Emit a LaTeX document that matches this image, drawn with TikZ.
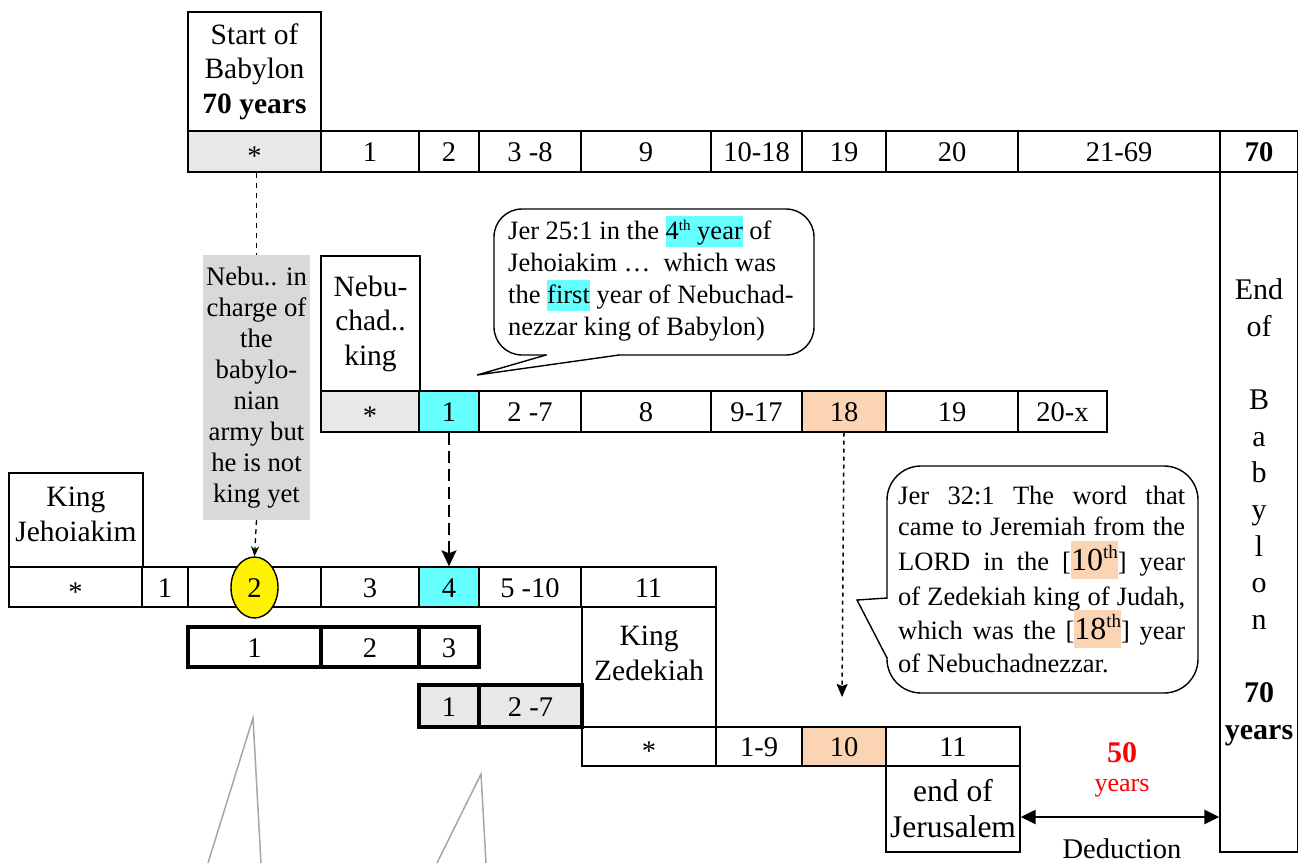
\documentclass[tikz,border=0pt]{standalone}
\usepackage{fontspec}
\setmainfont{Liberation Serif}
\usetikzlibrary{arrows.meta,shapes.geometric}
\definecolor{cellgray}{HTML}{E8E8E8}
\definecolor{boxgray}{HTML}{D9D9D9}
\definecolor{hlcyan}{HTML}{66FFFF}
\definecolor{hlpeach}{HTML}{FBD4B4}
\definecolor{linegray}{HTML}{A6A6A6}
\definecolor{redtxt}{HTML}{FF0000}
\newcommand\rkrow{\fontsize{28.5}{32}\selectfont}
\newcommand\rklabel{\fontsize{29.5}{34.5}\selectfont}
\newcommand\rkgray{\fontsize{26.7}{31}\selectfont}
\newcommand\rkcall{\fontsize{26.5}{32}\selectfont}
\newcommand\rkcol{\fontsize{30}{36.67}\selectfont}
\newcommand\rkstar{\raisebox{-4pt}{*}}
\newcommand\rksup[1]{\raisebox{9pt}{\fontsize{15}{16}\selectfont #1}}
\newcommand\rksupb[1]{\raisebox{12pt}{\fontsize{19}{20}\selectfont #1}}
\newcommand\rkhlc[1]{{\setlength{\fboxsep}{0pt}\colorbox{hlcyan}{\rule[-8pt]{0pt}{31pt}#1}}}
\newcommand\rkhlp[1]{{\setlength{\fboxsep}{0pt}\colorbox{hlpeach}{\rule[-8pt]{0pt}{38pt}\fontsize{32}{36}\selectfont #1}}}
\newcommand{\rkcell}[7]{%
 \pgfmathsetmacro\rkX{(#3+#5)/2}%
 \pgfmathsetmacro\rkY{(#4+#6)/2}%
 \pgfmathsetmacro\rkW{#5-#3}%
 \pgfmathsetmacro\rkH{#6-#4}%
 \node[#1,minimum width=\rkW pt,minimum height=\rkH pt] (#2) at (\rkX,\rkY) {#7};}
\tikzset{
 rowcell/.style={draw, line width=1.4pt, inner sep=0pt, align=center, font=\rkrow, text height=20pt, text depth=0pt},
 graycell/.style={rowcell, fill=cellgray},
 cyancell/.style={rowcell, fill=hlcyan},
 peachcell/.style={rowcell, fill=hlpeach},
 thickcell/.style={rowcell, line width=4pt},
 thickgray/.style={thickcell, fill=cellgray},
 labelbox/.style={draw, line width=1.4pt, inner sep=0pt, align=center, font=\rklabel},
 labeltext/.style={inner sep=0pt, align=center, font=\rklabel},
 calltext/.style={inner sep=0pt, anchor=base west, font=\rkcall},
 callline/.style={draw, line width=1.4pt},
 dashtop/.style={line width=1.3pt, dash pattern=on 5pt off 5pt},
 dashsmall/.style={line width=1.3pt, dash pattern=on 5pt off 4pt, -{Stealth[length=10pt,width=8pt]}},
 dashlong/.style={line width=1.5pt, dash pattern=on 12pt off 6pt, -{Stealth[length=16pt,width=15pt,inset=3pt]}},
 dashshort/.style={line width=1.5pt, dash pattern=on 4pt off 4pt, -{Stealth[length=13pt,width=11pt,inset=2pt]}},
 dblarrow/.style={line width=2.5pt, {Triangle[length=15pt,width=14pt]}-{Triangle[length=15pt,width=14pt]}},
 grayline/.style={draw=linegray, line width=1.5pt},
}
\begin{document}
\begin{tikzpicture}[x=1pt,y=-1pt]
\useasboundingbox (0,0) rectangle (1298,863);
% ---------- top row: Babylon ----------
\rkcell{labelbox}{startbox}{188}{12}{321}{131}{Start of\\Babylon\\\textbf{70 years}}
\rkcell{graycell}{t0}{188}{131}{321}{172}{\rkstar}
\rkcell{rowcell}{t1}{321}{131}{419}{172}{1}
\rkcell{rowcell}{t2}{419}{131}{479}{172}{2}
\rkcell{rowcell}{t3}{479}{131}{581}{172}{3 -8}
\rkcell{rowcell}{t4}{581}{131}{711}{172}{9}
\rkcell{rowcell}{t5}{711}{131}{802}{172}{10-18}
\rkcell{rowcell}{t6}{802}{131}{886}{172}{19}
\rkcell{rowcell}{t7}{886}{131}{1018}{172}{20}
\rkcell{rowcell}{t8}{1018}{131}{1220}{172}{21-69}
\rkcell{rowcell}{t9}{1220}{131}{1298}{172}{\textbf{70}}
\rkcell{labelbox}{endcol}{1220}{172}{1298}{852}{}
\node[inner sep=0pt, align=center, font=\rkcol, anchor=north] (coltext) at (1259,278.5)
 {End\\of\\\mbox{}\\B\\a\\b\\y\\l\\o\\n\\\mbox{}\\\textbf{70}\\\textbf{years}};
% ---------- gray note ----------
\node[fill=boxgray, inner sep=0pt, minimum width=107pt, minimum height=265pt, align=center, font=\rkgray]
 (graybox) at (256.5,387.5) {Nebu.. in\\charge of\\the\\babylo-\\nian\\army but\\he is not\\king yet};
% ---------- Nebuchadnezzar row ----------
\rkcell{labelbox}{nebbox}{321}{256}{420}{391}{Nebu-\\chad..\\king}
\rkcell{graycell}{n0}{321}{391}{419}{432}{\rkstar}
\rkcell{cyancell}{n1}{419}{391}{479}{432}{1}
\rkcell{rowcell}{n2}{479}{391}{581}{432}{2 -7}
\rkcell{rowcell}{n3}{581}{391}{711}{432}{8}
\rkcell{rowcell}{n4}{711}{391}{802}{432}{9-17}
\rkcell{peachcell}{n5}{802}{391}{886}{432}{18}
\rkcell{rowcell}{n6}{886}{391}{1018}{432}{19}
\rkcell{rowcell}{n7}{1018}{391}{1107}{432}{20-x}
% ---------- Jehoiakim row ----------
\rkcell{labelbox}{jehbox}{9}{473}{143}{567}{}
\node[labeltext] (jehtext) at (76,514.5) {King\\Jehoiakim};
\rkcell{rowcell}{j0}{9}{567}{142}{607}{\rkstar}
\rkcell{rowcell}{j1}{142}{567}{188}{607}{1}
\rkcell{rowcell}{j2}{188}{567}{321}{607}{}
\rkcell{rowcell}{j3}{321}{567}{419}{607}{3}
\rkcell{cyancell}{j4}{419}{567}{479}{607}{4}
\rkcell{rowcell}{j5}{479}{567}{581}{607}{5 -10}
\rkcell{rowcell}{j6}{581}{567}{716}{607}{11}
\node[ellipse, draw, line width=1.4pt, fill=yellow, inner sep=0pt, minimum width=47pt, minimum height=61pt,
 font=\rkrow, text height=20pt, text depth=0pt] (ell) at (254.5,587.5) {2};
% ---------- thick rows ----------
\rkcell{thickcell}{k1}{188}{627}{321}{667}{1}
\rkcell{thickcell}{k2}{321}{627}{419}{667}{2}
\rkcell{thickcell}{k3}{419}{627}{479}{667}{3}
\rkcell{thickgray}{m1}{419}{685}{479}{727}{1}
\rkcell{thickgray}{m2}{479}{685}{582}{727}{2 -7}
% ---------- Zedekiah ----------
\rkcell{labelbox}{zedbox}{582}{607}{716}{727}{}
\node[labeltext] (zedtext) at (649,653.5) {King\\Zedekiah};
\rkcell{rowcell}{z0}{582}{727}{716}{766}{\rkstar}
\rkcell{rowcell}{z1}{716}{727}{802}{766}{1-9}
\rkcell{peachcell}{z2}{802}{727}{886}{766}{10}
\rkcell{rowcell}{z3}{886}{727}{1020}{766}{11}
\rkcell{labelbox}{jer}{886}{766}{1020}{852}{}
\node[labeltext, font=\fontsize{31.5}{36}\selectfont] (jertext) at (953,809) {end of\\Jerusalem};
% ---------- callout 1 ----------
\draw[callline, fill=white, rounded corners=28pt] (494,209) rectangle (814,355);
\fill[white] (547,353) rectangle (618,357);
\draw[callline, line join=miter] (546,355) -- (477,375) -- (619,355);
\node[calltext] (c1a) at (508,239) {Jer 25:1 in the \rkhlc{4\rksup{th} year} of};
\node[calltext] (c1b) at (508,271) {Jehoiakim \dots\ \ which was};
\node[calltext] (c1c) at (508,303) {the \rkhlc{first} year of Nebuchad-};
\node[calltext] (c1d) at (508,335) {nezzar king of Babylon)};
% ---------- callout 2 ----------
\draw[callline, fill=white, rounded corners=34pt] (887,466) rectangle (1198,693);
\fill[white] (885,599) rectangle (889,657);
\draw[callline, line join=miter] (887,598) -- (857,600) -- (887,658);
\node[calltext] (c2a) at (898,504.5) {\makebox[287pt][s]{Jer 32:1 The word that}};
\node[calltext] (c2b) at (898,535.5) {\makebox[287pt][s]{came to Jeremiah from the}};
\node[calltext] (c2c) at (898,570.5) {\makebox[287pt][s]{LORD in the [\rkhlp{10\rksupb{th}}] year}};
\node[calltext] (c2d) at (898,605.5) {\makebox[287pt][s]{of Zedekiah king of Judah,}};
\node[calltext] (c2e) at (898,639.5) {\makebox[287pt][s]{which was the [\rkhlp{18\rksupb{th}}] year}};
\node[calltext] (c2f) at (898,672.5) {of Nebuchadnezzar.};
% ---------- connectors ----------
\draw[dashtop] (graybox.north |- t0.south) -- (graybox.north);
\draw[dashsmall] (graybox.south) -- (ell.north);
\draw[dashlong] (n1.south) -- (j4.north);
\coordinate (arrowend) at (842,697);
\draw[dashshort] (n5.south) -- (arrowend);
\draw[dblarrow] ([yshift=-8pt]jer.east) -- ([yshift=-8pt]jer.east -| endcol.west);
\node[font=\fontsize{30}{34}\selectfont\bfseries, text=redtxt, inner sep=0pt] (fifty) at (1122,753) {50};
\node[font=\fontsize{26}{30}\selectfont, text=redtxt, inner sep=0pt] (fiftyyears) at (1122,788) {years};
\node[font=\rkrow, inner sep=0pt] (deduction) at (1122,849) {Deduction};
% ---------- gray strokes ----------
\draw[grayline] (208,863) -- (253,718) -- (261,863);
\draw[grayline] (437,863) -- (481,774) -- (486,863);
\end{tikzpicture}
\end{document}
